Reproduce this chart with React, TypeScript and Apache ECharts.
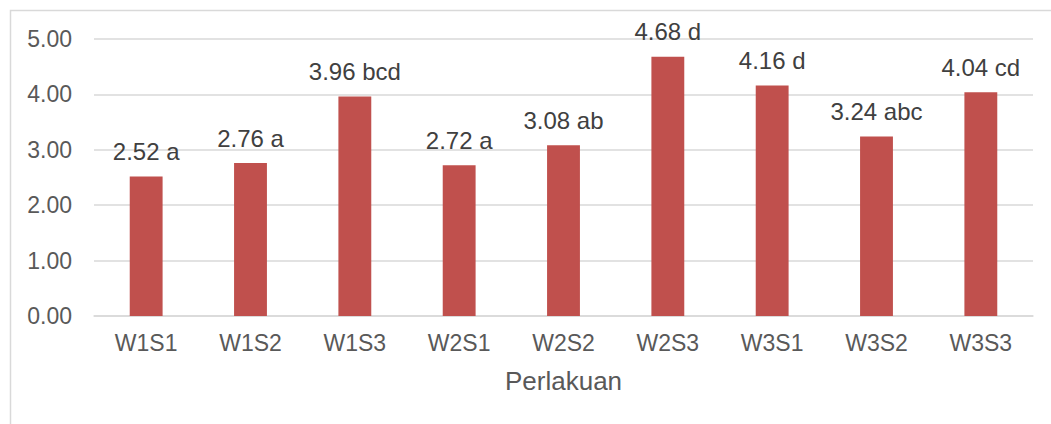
import React, { useEffect, useRef } from "react";
import * as echarts from "echarts";

const categories = ["W1S1", "W1S2", "W1S3", "W2S1", "W2S2", "W2S3", "W3S1", "W3S2", "W3S3"];
const values = [2.52, 2.76, 3.96, 2.72, 3.08, 4.68, 4.16, 3.24, 4.04];
const letters = ["a", "a", "bcd", "a", "ab", "d", "d", "abc", "cd"];
const yTicks = [0, 1, 2, 3, 4, 5];
const xTitle = "Perlakuan";

export default function App() {
  const ref = useRef<HTMLDivElement>(null);
  useEffect(() => {
    if (!ref.current) return;
    const chart = echarts.init(ref.current, null, { renderer: "svg" });
    const font = "Liberation Sans, Arial, sans-serif";
    chart.setOption({
      animation: false,
      backgroundColor: "#ffffff",
      graphic: [
        {
          type: "rect",
          shape: { x: 10.5, y: 10.5, width: 1200, height: 600 },
          style: { fill: "none", stroke: "#d9d9d9", lineWidth: 1.5 },
          silent: true,
        },
      ],
      grid: { left: 94, right: 18, top: 39, bottom: 108, containLabel: false },
      xAxis: {
        type: "category",
        data: categories,
        name: xTitle,
        nameLocation: "middle",
        nameGap: 52,
        nameTextStyle: { fontSize: 26, color: "#595959", fontFamily: font },
        axisLine: { show: true, lineStyle: { color: "#d9d9d9", width: 1.5 } },
        axisTick: { show: false },
        axisLabel: { fontSize: 23, color: "#595959", fontFamily: font, margin: 15 },
      },
      yAxis: {
        type: "value",
        min: yTicks[0],
        max: yTicks[yTicks.length - 1],
        interval: 1,
        axisLine: { show: false },
        axisTick: { show: false },
        splitLine: { lineStyle: { color: "#d9d9d9", width: 1.5 } },
        axisLabel: {
          fontSize: 23,
          color: "#595959",
          fontFamily: font,
          margin: 22,
          formatter: (v: number) => v.toFixed(2),
        },
      },
      series: [
        {
          type: "bar",
          data: values,
          barWidth: "31.5%",
          itemStyle: { color: "#C0504D" },
          label: {
            show: true,
            position: "top",
            distance: 13,
            fontSize: 24,
            color: "#404040",
            fontFamily: font,
            formatter: (p: any) => `${values[p.dataIndex].toFixed(2)} ${letters[p.dataIndex]}`,
          },
        },
      ],
    });
    return () => chart.dispose();
  }, []);
  return (
    <div
      ref={ref}
      style={{ position: "absolute", left: 0, top: 0, width: 1051, height: 424 }}
    />
  );
}
